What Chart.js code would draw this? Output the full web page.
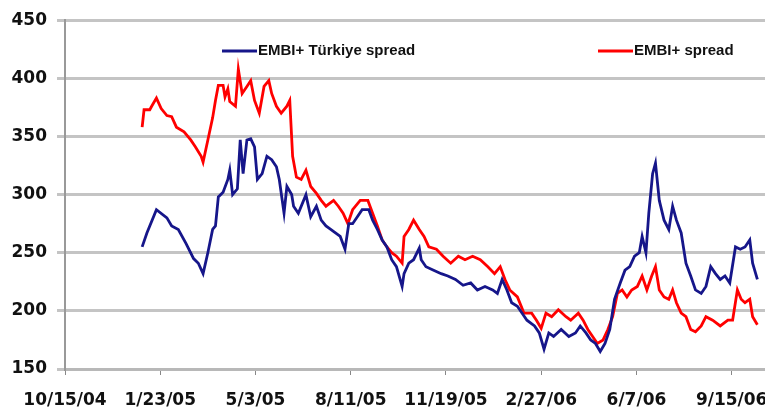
<!DOCTYPE html>
<html>
<head>
<meta charset="utf-8">
<script src="https://cdn.jsdelivr.net/npm/chart.js@4"></script>
<style>
  html, body { margin: 0; padding: 0; background: #fff; }
  #wrap { width: 765px; height: 415px; position: relative; }
</style>
</head>
<body>
<div id="wrap"><canvas id="spread-chart"></canvas></div>
<script>
// Data (x = days since 10/15/04)
const START_DATE = Date.UTC(2004, 9, 15);

const turkeyDays = [81, 86, 96, 107, 112, 119, 127, 135, 140, 145, 150, 155, 158, 161, 166, 171, 173, 176, 181, 184, 187, 191, 195, 199, 202, 207, 212, 217, 222, 225, 230, 233, 238, 240, 245, 253, 258, 264, 269, 274, 279, 284, 289, 294, 298, 302, 307, 312, 319, 323, 328, 333, 338, 343, 348, 354, 356, 361, 366, 372, 374, 379, 387, 395, 402, 410, 418, 426, 433, 441, 449, 454, 459, 464, 469, 475, 480, 485, 493, 498, 503, 508, 513, 521, 529, 536, 541, 547, 552, 557, 562, 567, 572, 577, 583, 588, 593, 598, 603, 606, 610, 613, 617, 620, 624, 629, 634, 638, 642, 647, 652, 657, 662, 668, 673, 678, 683, 688, 693, 698, 704, 709, 714, 719, 722, 727];
const turkeySpread = [255, 267, 287, 280, 273, 270, 258, 245, 241, 232, 250, 270, 273, 298, 302, 313, 321, 300, 305, 347, 318, 347, 348, 341, 313, 318, 333, 330, 324, 313, 284, 307, 300, 290, 284, 300, 281, 290, 278, 273, 270, 267, 264, 253, 275, 275, 281, 287, 287, 278, 270, 261, 255, 244, 238, 221, 232, 241, 244, 254, 244, 238, 235, 232, 230, 227, 222, 224, 218, 221, 218, 215, 227, 218, 207, 204, 198, 192, 187, 181, 167, 181, 178, 184, 178, 181, 187, 181, 175, 172, 165, 172, 184, 210, 224, 235, 238, 247, 250, 264, 250, 284, 318, 327, 295, 278, 270, 290, 278, 267, 241, 230, 218, 215, 221, 238, 232, 227, 230, 224, 255, 253, 255, 261, 241, 227];

const embiDays = [81, 83, 89, 91, 96, 101, 107, 112, 117, 125, 132, 137, 143, 145, 150, 155, 158, 161, 166, 168, 171, 173, 179, 182, 186, 191, 195, 199, 204, 209, 214, 217, 222, 227, 233, 236, 239, 243, 248, 253, 258, 264, 269, 274, 282, 287, 292, 297, 302, 310, 318, 323, 328, 333, 338, 343, 348, 354, 356, 361, 366, 372, 377, 382, 390, 397, 405, 413, 420, 428, 436, 444, 451, 457, 462, 467, 475, 482, 490, 495, 500, 505, 511, 518, 526, 531, 539, 544, 549, 554, 559, 565, 570, 575, 580, 585, 590, 595, 601, 606, 611, 616, 620, 624, 629, 634, 638, 642, 647, 652, 657, 662, 668, 673, 680, 688, 696, 701, 706, 710, 714, 719, 722, 727];
const embiSpread = [358, 373, 373, 376, 383, 374, 368, 367, 358, 354, 347, 341, 333, 328, 347, 366, 381, 394, 394, 384, 391, 380, 376, 408, 387, 393, 398, 381, 370, 393, 398, 387, 376, 370, 376, 381, 333, 315, 313, 321, 307, 301, 295, 290, 295, 290, 284, 275, 287, 295, 295, 284, 273, 261, 255, 250, 247, 241, 264, 270, 278, 270, 264, 255, 253, 247, 241, 247, 244, 247, 244, 238, 232, 238, 227, 218, 212, 198, 198, 192, 185, 198, 195, 201, 195, 192, 198, 192, 184, 178, 172, 175, 184, 195, 215, 218, 212, 218, 221, 230, 218, 230, 238, 218, 212, 210, 218, 207, 198, 195, 184, 182, 187, 195, 192, 187, 192, 192, 218, 210, 207, 210, 195, 188];

const yTicks = [150, 200, 250, 300, 350, 400, 450];
const seriesLabels = ["EMBI+ Türkiye spread", "EMBI+ spread"];

function toPoints(days, values) {
  return days.map((d, i) => ({ x: d, y: values[i] }));
}

function dayLabel(day) {
  const d = new Date(START_DATE + day * 86400000);
  const yy = String(d.getUTCFullYear() % 100).padStart(2, "0");
  return `${d.getUTCMonth() + 1}/${d.getUTCDate()}/${yy}`;
}

// Legend drawn inside the plot, two items far apart
const legendInside = {
  id: "legendInside",
  afterDraw(chart) {
    const ctx = chart.ctx;
    const items = [
      { x: 222, color: chart.data.datasets[0].borderColor, text: chart.data.datasets[0].label },
      { x: 598, color: chart.data.datasets[1].borderColor, text: chart.data.datasets[1].label },
    ];
    const y = 51;
    ctx.save();
    ctx.font = "bold 15px 'Liberation Sans', Arial, sans-serif";
    ctx.textBaseline = "middle";
    ctx.fillStyle = "#111";
    items.forEach((it) => {
      ctx.strokeStyle = it.color;
      ctx.lineWidth = 3;
      ctx.beginPath();
      ctx.moveTo(it.x, y);
      ctx.lineTo(it.x + 35, y);
      ctx.stroke();
      ctx.fillText(it.text, it.x + 36, y);
    });
    ctx.restore();
  },
};

const tickFont = { family: "'DejaVu Sans', sans-serif", size: 17, weight: "bold" };

new Chart(document.getElementById("spread-chart"), {
  type: "line",
  data: {
    datasets: [
      {
        label: seriesLabels[0],
        data: toPoints(turkeyDays, turkeySpread),
        borderColor: "#16168a",
        borderWidth: 2.8,
        pointRadius: 0,
        tension: 0,
        fill: false,
      },
      {
        label: seriesLabels[1],
        data: toPoints(embiDays, embiSpread),
        borderColor: "#ff0000",
        borderWidth: 2.8,
        pointRadius: 0,
        tension: 0,
        fill: false,
      },
    ],
  },
  options: {
    responsive: true,
    maintainAspectRatio: false,
    animation: false,
    layout: { padding: { top: 20, right: 0, left: 0, bottom: 0 } },
    plugins: { legend: { display: false }, tooltip: { enabled: false } },
    scales: {
      x: {
        type: "linear",
        min: 0,
        max: 735,
        afterFit: (scale) => {
          scale.height = 46;
          scale.paddingLeft = 0;
          scale.paddingRight = 0;
        },
        border: { display: true, color: "#b8b8b8", width: 3 },
        grid: { drawOnChartArea: false, drawTicks: true, tickLength: 6, color: "#888", lineWidth: 1 },
        ticks: {
          stepSize: 100,
          includeBounds: false,
          autoSkip: false,
          maxRotation: 0,
          padding: 15,
          color: "#111",
          font: tickFont,
          callback: (v) => dayLabel(v),
        },
      },
      y: {
        min: yTicks[0],
        max: yTicks[yTicks.length - 1],
        afterFit: (scale) => { scale.width = 65; },
        border: { display: true, color: "#999", width: 2 },
        grid: { color: "#c4c4c4", lineWidth: 3, tickLength: 8 },
        ticks: {
          stepSize: 50,
          padding: 10,
          color: "#111",
          font: tickFont,
        },
      },
    },
  },
  plugins: [legendInside],
});
</script>
</body>
</html>
